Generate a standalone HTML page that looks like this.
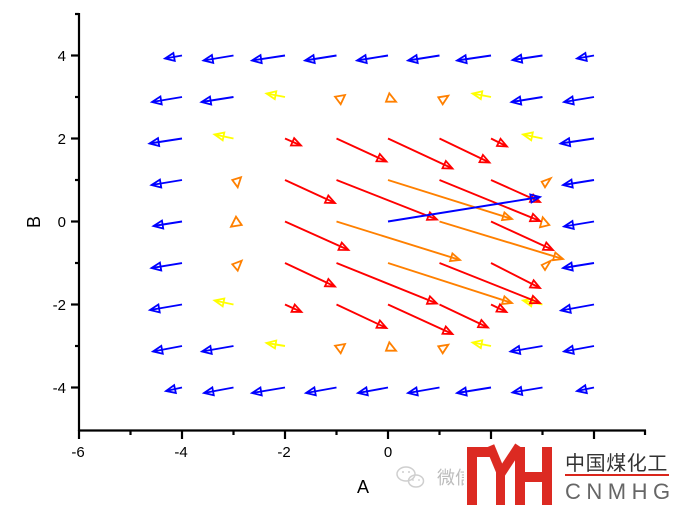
<!DOCTYPE html>
<html>
<head>
<meta charset="utf-8">
<style>
html,body{margin:0;padding:0;background:#fff;}
svg{display:block;}
text{font-family:"Liberation Sans",Arial,sans-serif;}
</style>
</head>
<body>
<svg width="675" height="511" viewBox="0 0 675 511" xmlns="http://www.w3.org/2000/svg">
<defs>
<marker id="mb" markerUnits="userSpaceOnUse" markerWidth="12" markerHeight="12" viewBox="-1 -1 12 12" refX="10" refY="5" orient="auto" overflow="visible"><path d="M0.8,1 L10,5 L0.8,9 Z" fill="none" stroke="#0000ff" stroke-width="1.8"/></marker>
<marker id="mr" markerUnits="userSpaceOnUse" markerWidth="12" markerHeight="12" viewBox="-1 -1 12 12" refX="10" refY="5" orient="auto" overflow="visible"><path d="M0.8,1 L10,5 L0.8,9 Z" fill="none" stroke="#ff0000" stroke-width="1.8"/></marker>
<marker id="mo" markerUnits="userSpaceOnUse" markerWidth="12" markerHeight="12" viewBox="-1 -1 12 12" refX="10" refY="5" orient="auto" overflow="visible"><path d="M0.8,1 L10,5 L0.8,9 Z" fill="none" stroke="#ff8000" stroke-width="1.8"/></marker>
<marker id="my" markerUnits="userSpaceOnUse" markerWidth="12" markerHeight="12" viewBox="-1 -1 12 12" refX="10" refY="5" orient="auto" overflow="visible"><path d="M0.8,1 L10,5 L0.8,9 Z" fill="none" stroke="#ffff00" stroke-width="1.8"/></marker>
</defs>
<rect width="675" height="511" fill="#fff"/>

<!-- Blue arrows -->
<g stroke="#0000ff" stroke-width="1.9" fill="none" marker-end="url(#mb)">
<line x1="182" y1="55.5" x2="165" y2="58.5"/>
<line x1="233.5" y1="55.5" x2="203.5" y2="60.5"/>
<line x1="285" y1="55.5" x2="252" y2="60.5"/>
<line x1="336.5" y1="55.5" x2="305" y2="60.5"/>
<line x1="388" y1="55.5" x2="357" y2="60.5"/>
<line x1="439.5" y1="55.5" x2="408" y2="60.5"/>
<line x1="491" y1="55.5" x2="457" y2="60.5"/>
<line x1="542.5" y1="55.5" x2="512.5" y2="60"/>
<line x1="594" y1="55.5" x2="577" y2="58.5"/>

<line x1="182" y1="97" x2="152" y2="102"/>
<line x1="233.5" y1="97" x2="201.5" y2="102"/>
<line x1="542.5" y1="97" x2="511.5" y2="102"/>
<line x1="594" y1="97" x2="564" y2="102"/>

<line x1="182" y1="138.5" x2="149.5" y2="143.5"/>
<line x1="594" y1="138.5" x2="560.5" y2="143.5"/>

<line x1="182" y1="180" x2="151.5" y2="185"/>
<line x1="594" y1="180" x2="563" y2="185"/>

<line x1="182" y1="221.5" x2="153.5" y2="226"/>
<line x1="594" y1="221.5" x2="564" y2="226.5"/>

<line x1="182" y1="263" x2="151.5" y2="268"/>
<line x1="594" y1="263" x2="563" y2="268"/>

<line x1="182" y1="304.5" x2="150" y2="310"/>
<line x1="594" y1="304.5" x2="561" y2="310.5"/>

<line x1="182" y1="346" x2="153" y2="351.5"/>
<line x1="233.5" y1="346" x2="202" y2="351.5"/>
<line x1="542.5" y1="346" x2="510.5" y2="351.5"/>
<line x1="594" y1="346" x2="564" y2="351.5"/>

<line x1="182" y1="387.5" x2="166" y2="391"/>
<line x1="233.5" y1="387.5" x2="204" y2="393"/>
<line x1="285" y1="387.5" x2="252" y2="393"/>
<line x1="336.5" y1="387.5" x2="306" y2="393"/>
<line x1="388" y1="387.5" x2="358" y2="393"/>
<line x1="439.5" y1="387.5" x2="408" y2="393"/>
<line x1="491" y1="387.5" x2="457" y2="393"/>
<line x1="542.5" y1="387.5" x2="512.5" y2="392.5"/>
<line x1="594" y1="387.5" x2="577" y2="391"/>
</g>

<!-- Yellow arrows -->
<g stroke="#ffff00" stroke-width="1.9" fill="none" marker-end="url(#my)">
<line x1="285" y1="97" x2="266.5" y2="93.5"/>
<line x1="491" y1="97" x2="472.5" y2="93.5"/>
<line x1="233.5" y1="138.5" x2="214.5" y2="134.5"/>
<line x1="542.5" y1="138.5" x2="523" y2="134.5"/>
<line x1="233.5" y1="304.5" x2="214.5" y2="300.5"/>
<line x1="542.5" y1="304.5" x2="523" y2="300.5"/>
<line x1="285" y1="346" x2="266.5" y2="343"/>
<line x1="491" y1="346" x2="472.5" y2="342.5"/>
</g>

<!-- Orange arrows -->
<g stroke="#ff8000" stroke-width="1.9" fill="none" marker-end="url(#mo)">
<line x1="388" y1="180" x2="512" y2="219"/>
<line x1="336.5" y1="221.5" x2="460" y2="260"/>
<line x1="439.5" y1="221.5" x2="563" y2="259"/>
<line x1="388" y1="263" x2="512" y2="303"/>
</g>

<!-- tiny orange arrowheads -->
<g stroke="#ff8000" stroke-width="1.8" fill="none">
<polygon points="335,96.7 345,95 340.7,104.3"/>
<polygon points="389.3,93.3 386,101.7 396,101.7"/>
<polygon points="438.3,97.3 448.3,95.7 442.7,104.3"/>
<polygon points="232.3,180 241,177.3 237.7,187.3"/>
<polygon points="541.7,181.7 550.7,178.3 545,187.3"/>
<polygon points="236,216.7 231,226.7 241.7,225"/>
<polygon points="542.7,217.3 540,227.3 549.3,225"/>
<polygon points="232.3,264.3 241.7,260.7 237.7,270.7"/>
<polygon points="541.7,265 550.7,260.7 545,270"/>
<polygon points="335,345.7 345,344 340.7,353.3"/>
<polygon points="389.3,342.3 386,350.7 396,350.7"/>
<polygon points="438.3,346.3 448.3,344.7 442.7,353.3"/>
</g>

<!-- Red arrows -->
<g stroke="#ff0000" stroke-width="1.9" fill="none" marker-end="url(#mr)">
<line x1="285" y1="138.5" x2="301" y2="145.5"/>
<line x1="336.5" y1="138.5" x2="386.5" y2="161.5"/>
<line x1="388" y1="138.5" x2="452.5" y2="168.5"/>
<line x1="439.5" y1="138.5" x2="489.5" y2="162.5"/>
<line x1="491" y1="138.5" x2="507" y2="146.5"/>

<line x1="285" y1="180" x2="335" y2="203"/>
<line x1="336.5" y1="180" x2="437" y2="219.5"/>
<line x1="439.5" y1="180" x2="540" y2="221"/>
<line x1="491" y1="180" x2="540" y2="202"/>

<line x1="285" y1="221.5" x2="348.5" y2="250"/>
<line x1="491" y1="221.5" x2="553" y2="250"/>

<line x1="285" y1="263" x2="335" y2="286.5"/>
<line x1="336.5" y1="263" x2="437" y2="303.5"/>
<line x1="439.5" y1="263" x2="540" y2="303"/>
<line x1="491" y1="263" x2="540" y2="288"/>

<line x1="285" y1="304.5" x2="301.5" y2="312"/>
<line x1="336.5" y1="304.5" x2="386.5" y2="328"/>
<line x1="388" y1="304.5" x2="452.5" y2="334"/>
<line x1="439.5" y1="304.5" x2="488" y2="327.5"/>
<line x1="491" y1="304.5" x2="506.5" y2="312"/>
</g>

<!-- center blue arrow on top -->
<g stroke="#0000ff" stroke-width="1.9" fill="none" marker-end="url(#mb)">
<line x1="388" y1="221.5" x2="540" y2="197"/>
</g>

<!-- Axes -->
<g stroke="#000" stroke-width="2.2" fill="none">
<line x1="79" y1="13" x2="79" y2="431"/>
<line x1="78" y1="430.5" x2="646" y2="430.5"/>
<!-- y major ticks -->
<line x1="71" y1="55.5" x2="79" y2="55.5"/>
<line x1="71" y1="138.5" x2="79" y2="138.5"/>
<line x1="71" y1="221.5" x2="79" y2="221.5"/>
<line x1="71" y1="304.5" x2="79" y2="304.5"/>
<line x1="71" y1="387.5" x2="79" y2="387.5"/>
<!-- y minor -->
<line x1="75" y1="14" x2="79" y2="14"/>
<line x1="75" y1="97" x2="79" y2="97"/>
<line x1="75" y1="180" x2="79" y2="180"/>
<line x1="75" y1="263" x2="79" y2="263"/>
<line x1="75" y1="346" x2="79" y2="346"/>
<!-- x major -->
<line x1="79" y1="430" x2="79" y2="439"/>
<line x1="182" y1="430" x2="182" y2="439"/>
<line x1="285" y1="430" x2="285" y2="439"/>
<line x1="388" y1="430" x2="388" y2="439"/>
<line x1="491" y1="430" x2="491" y2="439"/>
<line x1="594" y1="430" x2="594" y2="439"/>
<!-- x minor -->
<line x1="130.5" y1="430" x2="130.5" y2="435"/>
<line x1="233.5" y1="430" x2="233.5" y2="435"/>
<line x1="336.5" y1="430" x2="336.5" y2="435"/>
<line x1="439.5" y1="430" x2="439.5" y2="435"/>
<line x1="542.5" y1="430" x2="542.5" y2="435"/>
<line x1="645" y1="430" x2="645" y2="435"/>
</g>

<!-- tick labels -->
<g font-size="15" fill="#000" text-anchor="end">
<text x="66" y="61">4</text>
<text x="66" y="144">2</text>
<text x="66" y="227">0</text>
<text x="66" y="310">-2</text>
<text x="66" y="393">-4</text>
</g>
<g font-size="15" fill="#000" text-anchor="middle">
<text x="78" y="457">-6</text>
<text x="181" y="457">-4</text>
<text x="284" y="457">-2</text>
<text x="388" y="457">0</text>
<text x="491" y="457">2</text>
<text x="594" y="457">4</text>
</g>
<text x="363" y="493" font-size="18" text-anchor="middle" fill="#000">A</text>
<text transform="translate(40,222) rotate(-90)" font-size="18" text-anchor="middle" fill="#000">B</text>

<!-- watermark: wechat -->
<g stroke="#cfcfcf" stroke-width="1.5" fill="none">
<ellipse cx="406" cy="474" rx="9" ry="7"/>
<ellipse cx="416" cy="481" rx="7.5" ry="6"/>
</g>
<g fill="#cfcfcf">
<circle cx="403" cy="472" r="1"/><circle cx="409" cy="472" r="1"/>
<circle cx="413" cy="480" r="0.9"/><circle cx="419" cy="480" r="0.9"/>
</g>
<text x="437" y="484" font-size="18" fill="#bdbdbd" font-family="'Liberation Sans','Noto Sans CJK SC',sans-serif">微信</text>

<!-- logo -->
<rect x="464" y="446" width="211" height="65" fill="#fff"/>
<g fill="#dc2a22">
<rect x="467" y="447" width="10" height="58"/>
<rect x="467" y="447" width="26" height="10"/>
<rect x="496" y="471" width="9" height="34"/>
<rect x="515" y="447" width="10" height="58"/>
<rect x="525" y="472" width="17" height="10"/>
<rect x="542" y="447" width="10" height="58"/>
</g>
<g stroke="#dc2a22" stroke-width="9" fill="none" stroke-linecap="butt">
<line x1="490" y1="446" x2="502" y2="475"/>
<line x1="519" y1="446" x2="500" y2="475"/>
</g>
<text x="565" y="470" font-size="20" fill="#333" font-family="'Liberation Sans','Noto Sans CJK SC',sans-serif" letter-spacing="0.6">中国煤化工</text>
<rect x="565" y="474" width="104" height="2" fill="#d9261c"/>
<text x="565" y="499" font-size="22" fill="#666" letter-spacing="5.5">CNMHG</text>
</svg>
</body>
</html>
